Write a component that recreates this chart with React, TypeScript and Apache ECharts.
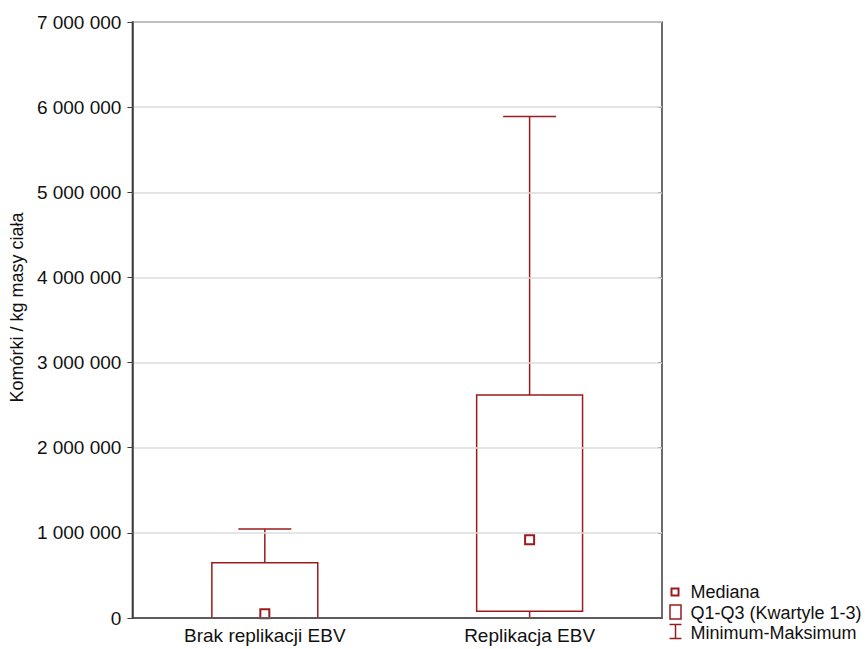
import React, { useEffect, useRef } from "react";
import * as echarts from "echarts";

// Group names and five-number summaries (cells per kg body mass)
const categories = ["Brak replikacji EBV", "Replikacja EBV"];
const minimum = [0, 0];
const q1 = [0, 80000];
const median = [50000, 920000];
const q3 = [650000, 2620000];
const maximum = [1045000, 5890000];

const yMin = 0;
const yMax = 7000000;
const yStep = 1000000;

const legendLabels = ["Mediana", "Q1-Q3 (Kwartyle 1-3)", "Minimum-Maksimum"];

const RED = "#9a1c1c";
const FRAME = "#3c3c3c";
const FONT = "'Liberation Sans', Arial, sans-serif";
const FS = 19;
const LEGEND_FS = 18;

const fmt = (v: number) => String(v).replace(/\B(?=(\d{3})+(?!\d))/g, " ");

export default function App() {
  const ref = useRef<HTMLDivElement>(null);

  useEffect(() => {
    if (!ref.current) return;
    const chart = echarts.init(ref.current, undefined, { renderer: "svg" });

    const boxData = categories.map((_, i) => [i, minimum[i], q1[i], q3[i], maximum[i]]);
    const medianData = categories.map((_, i) => [i, median[i]]);

    const renderBox = (params: any, api: any) => {
      const idx = api.value(0);
      const lo = api.coord([idx, api.value(1)]);
      const b = api.coord([idx, api.value(2)]);
      const t = api.coord([idx, api.value(3)]);
      const hi = api.coord([idx, api.value(4)]);
      const band = api.size([1, 0])[0];
      const w = band * 0.4;
      const cap = w / 2;
      const x = b[0];
      const lineStyle = { stroke: RED, lineWidth: 1.5, fill: "none" };
      return {
        type: "group",
        children: [
          {
            type: "rect",
            shape: { x: x - w / 2, y: t[1], width: w, height: b[1] - t[1] },
            style: { stroke: RED, lineWidth: 1.5, fill: "rgba(0,0,0,0)" },
          },
          { type: "line", shape: { x1: x, y1: t[1], x2: x, y2: hi[1] }, style: lineStyle },
          { type: "line", shape: { x1: x - cap / 2, y1: hi[1], x2: x + cap / 2, y2: hi[1] }, style: lineStyle },
          { type: "line", shape: { x1: x, y1: b[1], x2: x, y2: lo[1] }, style: lineStyle },
          { type: "line", shape: { x1: x - cap / 2, y1: lo[1], x2: x + cap / 2, y2: lo[1] }, style: lineStyle },
        ],
      };
    };

    const legendX = 667;
    const legendY = 583;
    const rowH = 20.5;
    const legendFont = `${LEGEND_FS}px ${FONT}`;

    chart.setOption({
      animation: false,
      backgroundColor: "#ffffff",
      textStyle: { fontFamily: FONT },
      grid: {
        left: 131,
        top: 22,
        width: 531,
        height: 596,
        show: true,
        borderColor: FRAME,
        borderWidth: 1.5,
        backgroundColor: "transparent",
      },
      xAxis: {
        type: "category",
        data: categories,
        boundaryGap: true,
        z: 5,
        axisLine: { show: true, lineStyle: { color: FRAME, width: 1.5 } },
        axisTick: { show: false },
        axisLabel: { color: "#111", fontSize: FS, fontFamily: FONT, margin: 8 },
        splitLine: { show: false },
      },
      yAxis: [
        {
          type: "value",
          min: yMin,
          max: yMax,
          interval: yStep,
          z: 5,
          name: "Komórki / kg masy ciała",
          nameLocation: "middle",
          nameRotate: 90,
          nameGap: 104,
          nameTextStyle: { color: "#111", fontSize: 18, fontFamily: FONT, padding: [0, 0, 0, 25] },
          axisLine: { show: true, lineStyle: { color: FRAME, width: 1.5 } },
          axisTick: { show: true, inside: false, length: 5, lineStyle: { color: FRAME } },
          axisLabel: { color: "#111", fontSize: FS, fontFamily: FONT, margin: 11, formatter: (v: number) => fmt(v) },
          splitLine: { show: true, lineStyle: { color: "#dcdcdc", width: 1.5 } },
        },
        {
          type: "value",
          position: "right",
          min: yMin,
          max: yMax,
          interval: yStep,
          axisLine: { show: false },
          axisTick: { show: true, inside: true, length: 4, lineStyle: { color: FRAME } },
          axisLabel: { show: false },
          splitLine: { show: false },
        },
      ],
      series: [
        {
          type: "custom",
          name: "Q1-Q3",
          z: 1,
          renderItem: renderBox,
          encode: { x: 0, y: [1, 2, 3, 4] },
          data: boxData,
          clip: false,
        },
        {
          type: "scatter",
          name: "Mediana",
          z: 3,
          symbol: "rect",
          symbolSize: 9,
          itemStyle: { color: "#ffffff", borderColor: RED, borderWidth: 2, opacity: 1 },
          data: medianData,
        },
      ],
      graphic: [
        {
          type: "group",
          left: legendX,
          top: legendY,
          children: [
            {
              type: "rect",
              shape: { x: 2, y: 5, width: 7, height: 7 },
              style: { fill: "#fff", stroke: RED, lineWidth: 2 },
            },
            {
              type: "text",
              style: { x: 21, y: 8.5, text: legendLabels[0], fill: "#111", font: legendFont, verticalAlign: "middle" },
            },
            {
              type: "rect",
              shape: { x: 0.5, y: rowH + 1, width: 11, height: 14 },
              style: { fill: "#fff", stroke: RED, lineWidth: 1.5 },
            },
            {
              type: "text",
              style: { x: 21, y: 8.5 + rowH, text: legendLabels[1], fill: "#111", font: legendFont, verticalAlign: "middle" },
            },
            {
              type: "line",
              shape: { x1: 6, y1: 2 * rowH, x2: 6, y2: 2 * rowH + 14 },
              style: { stroke: RED, lineWidth: 1.5 },
            },
            {
              type: "line",
              shape: { x1: 0, y1: 2 * rowH, x2: 12, y2: 2 * rowH },
              style: { stroke: RED, lineWidth: 1.5 },
            },
            {
              type: "line",
              shape: { x1: 0, y1: 2 * rowH + 14, x2: 12, y2: 2 * rowH + 14 },
              style: { stroke: RED, lineWidth: 1.5 },
            },
            {
              type: "text",
              style: { x: 21, y: 8.5 + 2 * rowH, text: legendLabels[2], fill: "#111", font: legendFont, verticalAlign: "middle" },
            },
          ],
        },
      ],
    });

    return () => chart.dispose();
  }, []);

  return (
    <div
      ref={ref}
      style={{ position: "fixed", left: 0, top: 0, width: 865, height: 649, background: "#fff" }}
    />
  );
}
